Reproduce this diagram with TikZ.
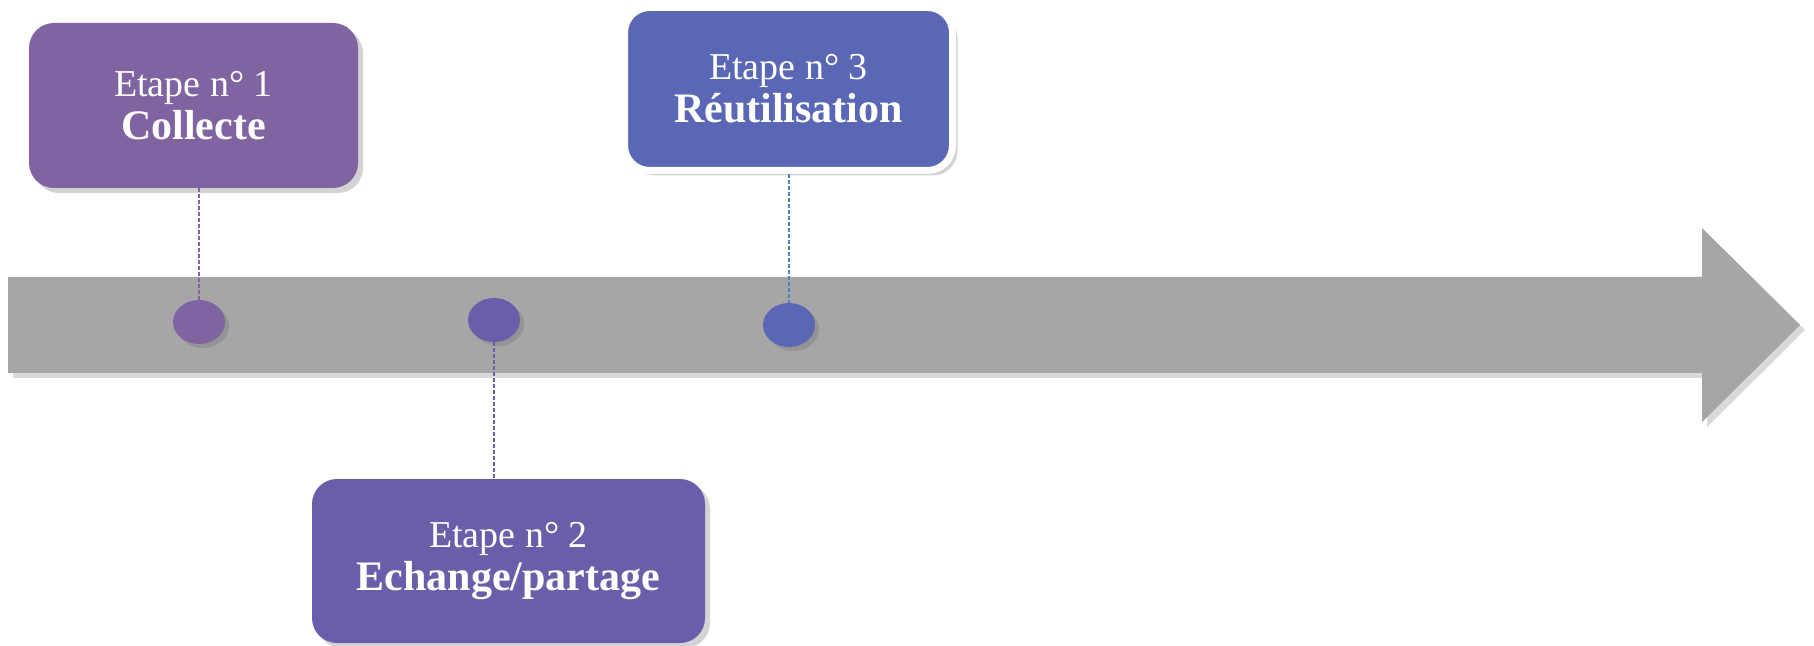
\documentclass[tikz,border=0pt]{standalone}
\usepackage{fontspec}
\setmainfont{Liberation Serif}
\usetikzlibrary{shadows,shapes.geometric}
\definecolor{cA}{HTML}{8064A2}
\definecolor{cB}{HTML}{6A5EAA}
\definecolor{cC}{HTML}{5A67B4}
\definecolor{lnC}{HTML}{4F81BD}
\definecolor{arrowgray}{HTML}{A6A6A6}
\newcommand{\stepname}[1]{{\fontsize{21}{21.5}\selectfont\bfseries #1}}
\begin{document}
\begin{tikzpicture}[x=0.5pt,y=-0.5pt,
  stepbox/.style={rounded corners=12.5pt, align=center, text=white, inner sep=0pt,
    font=\fontsize{19}{21.5}\selectfont,
    drop shadow={shadow xshift=2.5pt, shadow yshift=-2.5pt, opacity=0.35}},
  dot/.style={ellipse, minimum width=26pt, minimum height=22pt, inner sep=0pt,
    drop shadow={shadow xshift=2pt, shadow yshift=-2pt, opacity=0.45}},
  link/.style={dash pattern=on 2pt off 1pt, line width=0.6pt}]
\useasboundingbox (0,0) rectangle (1814,646);
% timeline arrow
\fill[arrowgray, drop shadow={shadow xshift=2.5pt, shadow yshift=-2.5pt, opacity=0.3}]
  (8,277) -- (1702,277) -- (1702,228) -- (1800,325) -- (1702,422) -- (1702,373) -- (8,373) -- cycle;
% dots
\node[dot, fill=cA] (d1) at (199,322) {};
\node[dot, fill=cB] (d2) at (494,320) {};
\node[dot, fill=cC] (d3) at (789,325) {};
% boxes
\node[stepbox, fill=cA, minimum width=164.5pt, minimum height=82.5pt] (b1) at (193.5,105.5)
  {Etape n° 1\\\stepname{Collecte}};
\node[stepbox, fill=cB, minimum width=196.5pt, minimum height=82pt] (b2) at (508.5,561)
  {Etape n° 2\\\stepname{Echange/partage}};
\node[stepbox, fill=cC, draw=white, line width=3.5pt, minimum width=164pt, minimum height=81.5pt] (b3) at (788.5,89)
  {Etape n° 3\\\stepname{Réutilisation}};
% connectors
\draw[link, cA] (b1.south -| d1.north) -- (d1.north);
\draw[link, cB] (d2.south) -- (d2.south |- b2.north);
\draw[link, lnC] (b3.south -| d3.north) -- (d3.north);
\end{tikzpicture}
\end{document}
